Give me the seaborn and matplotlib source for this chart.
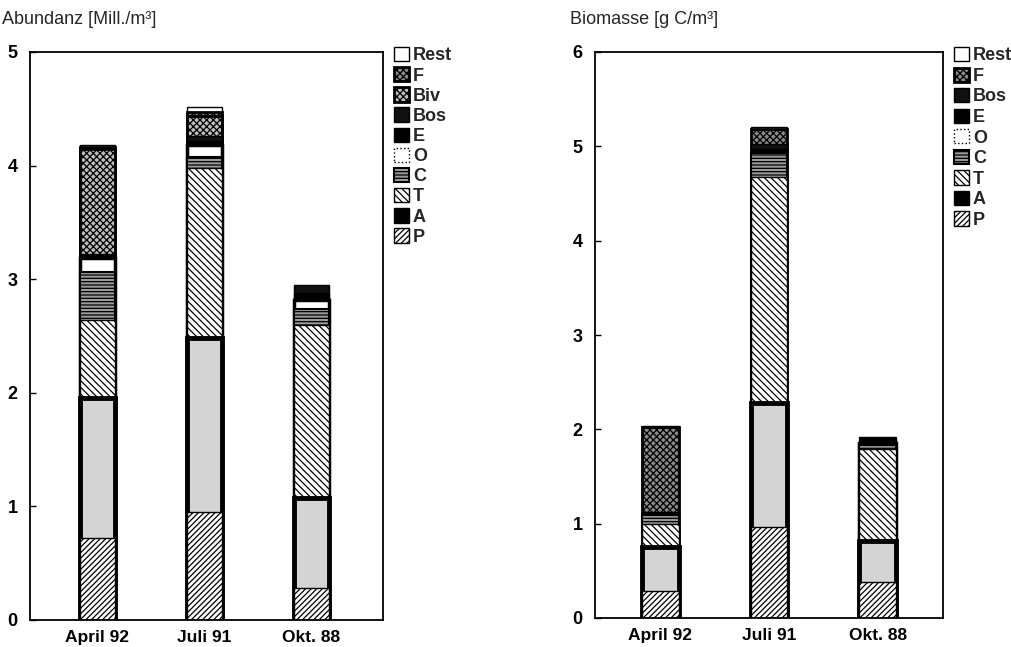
import matplotlib
matplotlib.use("Agg")
import matplotlib.pyplot as plt
import seaborn as sns
import pandas as pd
import numpy as np
from matplotlib.patches import Patch

sns.set_theme(style="white")
plt.rcParams['font.family'] = ['Liberation Sans', 'DejaVu Sans']
plt.rcParams['hatch.linewidth'] = 0.9

categories = ["April 92", "Juli 91", "Okt. 88"]

# Abundanz [Mill./m³] - stack bottom -> top
abund_groups = ["P", "A", "T", "C", "O", "E", "Bos", "Biv", "F", "Rest"]
abund_P    = [0.72, 0.95, 0.28]
abund_A    = [1.23, 1.53, 0.79]
abund_T    = [0.69, 1.50, 1.53]
abund_C    = [0.42, 0.10, 0.14]
abund_O    = [0.13, 0.10, 0.08]
abund_E    = [0.02, 0.04, 0.06]
abund_Bos  = [0.01, 0.04, 0.07]
abund_Biv  = [0.93, 0.18, 0.00]
abund_F    = [0.01, 0.03, 0.00]
abund_Rest = [0.02, 0.05, 0.00]

# Biomasse [g C/m³] - stack bottom -> top
bio_groups = ["P", "A", "T", "C", "O", "E", "Bos", "F", "Rest"]
bio_P    = [0.29, 0.96, 0.38]
bio_A    = [0.46, 1.32, 0.44]
bio_T    = [0.25, 2.39, 0.97]
bio_C    = [0.09, 0.26, 0.04]
bio_O    = [0.00, 0.00, 0.02]
bio_E    = [0.03, 0.04, 0.07]
bio_Bos  = [0.00, 0.05, 0.00]
bio_F    = [0.91, 0.16, 0.00]
bio_Rest = [0.01, 0.02, 0.00]

abund_vals = [abund_P, abund_A, abund_T, abund_C, abund_O, abund_E,
              abund_Bos, abund_Biv, abund_F, abund_Rest]
bio_vals = [bio_P, bio_A, bio_T, bio_C, bio_O, bio_E, bio_Bos, bio_F, bio_Rest]

styles = {
    "P":    dict(facecolor="white", hatch="//////", edgecolor="black", linewidth=1.0),
    "A":    dict(facecolor="#d4d4d4", hatch=None, edgecolor="black", linewidth=3.5),
    "T":    dict(facecolor="white", hatch="\\\\\\\\\\", edgecolor="black", linewidth=1.0),
    "C":    dict(facecolor="#9a9a9a", hatch="-----", edgecolor="black", linewidth=1.5),
    "O":    dict(facecolor="white", hatch=None, edgecolor="black", linewidth=2.5),
    "E":    dict(facecolor="black", hatch=None, edgecolor="black", linewidth=1.0),
    "Bos":  dict(facecolor="#111111", hatch=None, edgecolor="black", linewidth=1.0),
    "Biv":  dict(facecolor="#bdbdbd", hatch="xxxxx", edgecolor="black", linewidth=2.0),
    "F":    dict(facecolor="#8a8a8a", hatch="xxxxx", edgecolor="black", linewidth=2.0),
    "Rest": dict(facecolor="white", hatch=None, edgecolor="black", linewidth=1.0),
}
legend_styles = dict(styles)
legend_styles["A"] = dict(facecolor="black", edgecolor="black", linewidth=1.0)
legend_styles["O"] = dict(facecolor="white", edgecolor="black", linewidth=1.0, linestyle=":")


def draw_panel(ax, groups, vals, ymax, xlim, width, spacing):
    rows = []
    for g, v in zip(groups, vals):
        for c, val in zip(categories, v):
            rows.append(dict(cat=c, group=g, value=val))
    df = pd.DataFrame(rows)
    df["group"] = pd.Categorical(df["group"], categories=groups, ordered=True)
    df = df.sort_values(["cat", "group"])
    df["cum"] = df.groupby("cat", observed=True)["value"].cumsum()
    for g in reversed(groups):
        sub = df[df["group"] == g].copy()
        sub = sub[sub["value"] > 0]
        if sub.empty:
            continue
        st = styles[g]
        sns.barplot(data=sub, x="cat", y="cum", order=categories, ax=ax,
                    width=width, errorbar=None, color=st["facecolor"],
                    edgecolor=st["edgecolor"], linewidth=st["linewidth"],
                    hatch=st["hatch"], saturation=1)
    ax.set_ylim(0, ymax)
    ax.set_xlim(*xlim)
    ax.set_yticks(range(0, ymax + 1))
    ax.set_xlabel("")
    ax.set_ylabel("")
    for s in ax.spines.values():
        s.set_visible(True)
        s.set_color("black")
        s.set_linewidth(1.3)
    ax.tick_params(axis="y", direction="in", length=4, width=1, left=True,
                   labelsize=13, pad=9, colors="black")
    ax.tick_params(axis="x", length=0, labelsize=12.5, pad=7, colors="black")
    for lab in ax.get_yticklabels() + ax.get_xticklabels():
        lab.set_fontweight("bold")
    handles = []
    for g in reversed(groups):
        handles.append(Patch(label=g, **{k: v for k, v in legend_styles[g].items()}))
    ax.legend(handles=handles, loc="upper left", bbox_to_anchor=(1.0, 1.028),
              frameon=False, handlelength=0.85, handleheight=0.85,
              handletextpad=0.2, labelspacing=spacing, borderaxespad=0.2,
              prop=dict(size=13, weight="bold"))
    return ax


fig = plt.figure(figsize=(10.12, 6.47), dpi=100)
ax1 = fig.add_axes([30 / 1012, 27 / 647, 353 / 1012, 568 / 647])
ax2 = fig.add_axes([595 / 1012, 29 / 647, 348 / 1012, 566 / 647])

draw_panel(ax1, abund_groups, abund_vals, 5, (-0.63, 2.67), 0.33, 0.15)
draw_panel(ax2, bio_groups, bio_vals, 6, (-0.60, 2.60), 0.34, 0.17)

fig.text(2 / 1012, 1 - 20 / 647, "Abundanz [Mill./m³]", fontsize=13, va="center", ha="left")
fig.text(570 / 1012, 1 - 20 / 647, "Biomasse [g C/m³]", fontsize=13, va="center", ha="left")

fig.savefig("out.png", dpi=100)
